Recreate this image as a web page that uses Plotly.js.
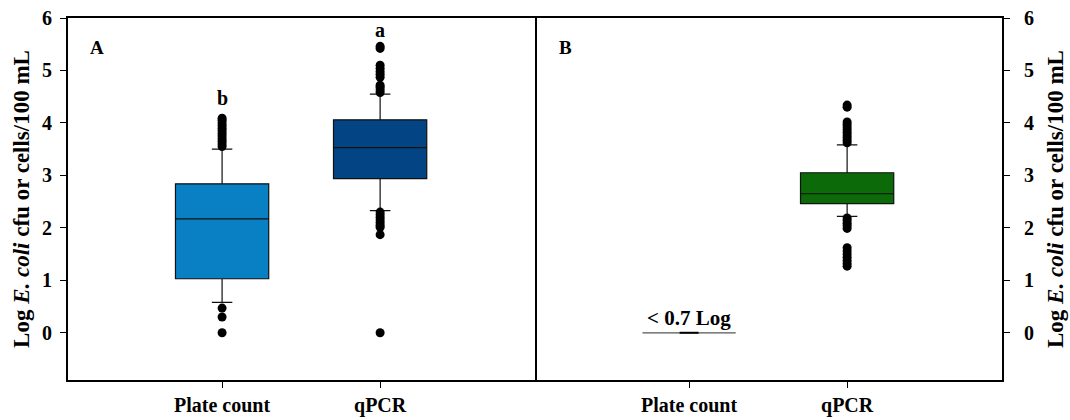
<!DOCTYPE html>
<html><head><meta charset="utf-8">
<script src="https://cdn.plot.ly/plotly-3.0.1.min.js"></script>
<style>html,body{margin:0;padding:0;background:#fff}#chart{width:1070px;height:420px}</style>
</head><body><div id="chart"></div>
<script>
// Tick labels / categories
const categories = ["Plate count", "qPCR"];
const catPos = [0, 1];

// Panel A: box statistics (Log E. coli)
const plateA_stats = {q1: 1.03, median: 2.17, q3: 2.84, lower: 0.58, upper: 3.50};
const qpcrA_stats  = {q1: 2.94, median: 3.53, q3: 4.06, lower: 2.33, upper: 4.55};
// Panel A outliers
const plateA_out = [3.55, 3.60, 3.65, 3.70, 3.75, 3.80, 3.85, 3.90, 3.95, 4.00, 4.05, 4.09, 0.47, 0.30, 0.00];
const qpcrA_out  = [4.58, 4.63, 4.68, 4.72, 4.87, 4.93, 4.98, 5.04, 5.10, 5.42, 5.46, 2.30, 2.25, 2.20, 2.15, 2.10, 2.05, 2.01, 1.87, 0.00];

// Panel B: qPCR box statistics and outliers (plate count below detection)
const qpcrB_stats = {q1: 2.46, median: 2.65, q3: 3.05, lower: 2.22, upper: 3.58};
const qpcrB_out   = [3.62, 3.67, 3.72, 3.77, 3.82, 3.87, 3.92, 3.97, 4.02, 4.30, 4.34, 2.19, 2.14, 2.09, 2.04, 1.99, 1.62, 1.56, 1.50, 1.44, 1.38, 1.32, 1.27];
const plateB_detect = 0.0;   // level of "< 0.7 Log" marker line
const plateB_label = "< 0.7 Log";

const letters = ["b", "a"];
const panelLabels = ["A", "B"];

const FONT = "Liberation Serif, Times New Roman, serif";
const colors = {plateA: "#0A80C4", qpcrA: "#034485", qpcrB: "#0C6A08"};
const boxW = 0.59;

function boxTrace(stats, pos, color, xa, ya) {
  return {
    type: "box", x: [pos], q1: [stats.q1], median: [stats.median], q3: [stats.q3],
    lowerfence: [stats.lower], upperfence: [stats.upper],
    width: boxW, whiskerwidth: 0.22, fillcolor: color,
    line: {color: "#111", width: 1.2}, boxpoints: false,
    xaxis: xa, yaxis: ya, showlegend: false, hoverinfo: "skip"
  };
}
function outTrace(vals, pos, xa, ya) {
  return {
    type: "scatter", mode: "markers", x: vals.map(() => pos), y: vals,
    marker: {color: "#000", size: 9}, xaxis: xa, yaxis: ya, showlegend: false, hoverinfo: "skip"
  };
}

const data = [
  boxTrace(plateA_stats, catPos[0], colors.plateA, "x", "y"),
  boxTrace(qpcrA_stats, catPos[1], colors.qpcrA, "x", "y"),
  outTrace(plateA_out, catPos[0], "x", "y"),
  outTrace(qpcrA_out, catPos[1], "x", "y"),
  boxTrace(qpcrB_stats, catPos[1], colors.qpcrB, "x2", "y2"),
  outTrace(qpcrB_out, catPos[1], "x2", "y2"),
  {type: "scatter", mode: "lines", x: [catPos[0] - boxW/2, catPos[0] + boxW/2], y: [plateB_detect, plateB_detect],
   line: {color: "#555", width: 1.2}, xaxis: "x2", yaxis: "y2", showlegend: false, hoverinfo: "skip"},
  {type: "scatter", mode: "lines", x: [catPos[0] - 0.06, catPos[0] + 0.06], y: [plateB_detect, plateB_detect],
   line: {color: "#000", width: 2}, xaxis: "x2", yaxis: "y2", showlegend: false, hoverinfo: "skip"}
];

const yr = [-0.9, 6];
const xr = [-0.975, 1.98];
const xaxisCommon = {
  range: xr, tickvals: catPos, ticktext: categories, ticks: "outside", ticklen: 6, tickwidth: 1,
  tickcolor: "#000", showline: true, linewidth: 2, linecolor: "#000", mirror: true,
  showgrid: false, zeroline: false, ticklabelstandoff: 0,
  tickfont: {family: FONT, size: 20, color: "#000", weight: "bold"}
};
const ytitle = "Log <i>E. coli</i> cfu or cells/100 mL";
const yaxisCommon = {
  range: yr, tickvals: [0,1,2,3,4,5,6], ticks: "outside", ticklen: 6, tickwidth: 1, tickcolor: "#000",
  showline: true, linewidth: 2, linecolor: "#000", showgrid: false, zeroline: false,
  tickfont: {family: FONT, size: 20, color: "#000", weight: "bold"}
};

const layout = {
  width: 1070, height: 420,
  margin: {l: 68, r: 68, t: 18, b: 40},
  paper_bgcolor: "#fff", plot_bgcolor: "#fff",
  xaxis: Object.assign({}, xaxisCommon, {domain: [0, 0.5], anchor: "y"}),
  xaxis2: Object.assign({}, xaxisCommon, {domain: [0.5, 1], anchor: "y2"}),
  yaxis: Object.assign({}, yaxisCommon, {anchor: "x", side: "left", mirror: true, ticklabelstandoff: 4,
    title: {text: ytitle, font: {family: FONT, size: 23, color: "#000", weight: "bold"}, standoff: 6}}),
  yaxis2: Object.assign({}, yaxisCommon, {anchor: "x2", side: "right", mirror: false, ticklabelstandoff: 10,
    title: {text: ytitle, font: {family: FONT, size: 23, color: "#000", weight: "bold"}, standoff: 14}}),
  annotations: [
    {x: catPos[0], y: 4.48, xref: "x", yref: "y", text: letters[0], showarrow: false,
     font: {family: FONT, size: 20, color: "#000", weight: "bold"}},
    {x: catPos[1], y: 5.78, xref: "x", yref: "y", text: letters[1], showarrow: false,
     font: {family: FONT, size: 20, color: "#000", weight: "bold"}},
    {x: -0.79, y: 5.43, xref: "x", yref: "y", text: panelLabels[0], showarrow: false,
     font: {family: FONT, size: 19, color: "#000", weight: "bold"}},
    {x: -0.78, y: 5.43, xref: "x2", yref: "y2", text: panelLabels[1], showarrow: false,
     font: {family: FONT, size: 19, color: "#000", weight: "bold"}},
    {x: catPos[0], y: plateB_detect, xref: "x2", yref: "y2", text: plateB_label, showarrow: false,
     yanchor: "bottom", yshift: 1, font: {family: FONT, size: 21, color: "#000", weight: "bold"}}
  ]
};

Plotly.newPlot("chart", data, layout, {displayModeBar: false, staticPlot: true});
</script></body></html>
